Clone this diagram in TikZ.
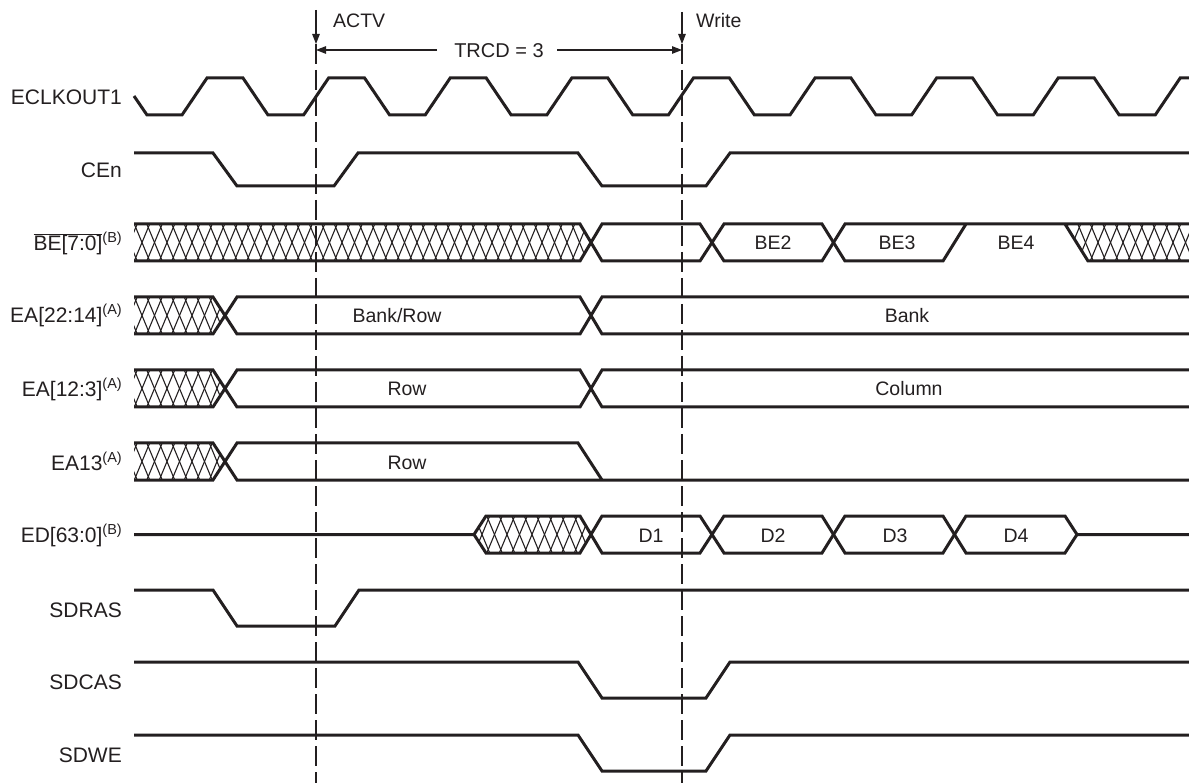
\documentclass[tikz,border=0pt]{standalone}
\usepackage{fontspec}
\setmainfont{Liberation Sans}
\usetikzlibrary{arrows.meta}
\definecolor{ink}{RGB}{35,31,32}
\newcommand{\tisup}[1]{\raisebox{8pt}{\fontsize{14.5}{15}\selectfont(#1)}}
\newcommand{\xhatch}[4]{%
  \pgfmathsetmacro{\hdx}{(#4-#3)/4.8}%
  \pgfmathtruncatemacro{\hn}{(#2-#1)/12.5+3}%
  \foreach \k in {0,...,\hn}{%
    \pgfmathsetmacro{\xa}{#1+8-12.5+\k*12.5}%
    \draw[hatchline] (\xa-\hdx,#3) -- (\xa+\hdx,#4);
    \draw[hatchline] (\xa-\hdx,#4) -- (\xa+\hdx,#3);
  }%
}
\tikzset{
  wave/.style={line width=3pt, draw=ink},
  hatchline/.style={line width=1.1pt, draw=ink},
  guide/.style={line width=1.2pt, draw=ink, dash pattern=on 20pt off 6pt},
  arr/.style={line width=1.2pt, draw=ink, -{Triangle[length=10pt,width=7.5pt]}},
  lbl/.style={anchor=base east, inner sep=0pt, text=ink, font=\fontsize{21}{25}\selectfont},
  seg/.style={anchor=base, inner sep=0pt, text=ink, font=\fontsize{19.5}{23}\selectfont},
  note/.style={anchor=base west, inner sep=0pt, text=ink, font=\fontsize{19.5}{23}\selectfont}
}
\begin{document}
\begin{tikzpicture}[x=1pt,y=-1pt]
\useasboundingbox (0,0) rectangle (1189,783);

% guides and arrows
\coordinate (actvTop) at (316,10);
\coordinate (actvTip) at (316,44);
\coordinate (actvBot) at (316,783);
\coordinate (wrTop) at (682,12);
\coordinate (wrTip) at (682,44);
\coordinate (wrBot) at (682,783);
\coordinate (hL) at (316,50);
\coordinate (hR) at (682,50);
\node[note] (actv) at (333,28) {ACTV};
\node[note] (write) at (696,28) {Write};
\node[anchor=base, inner sep=0pt, text=ink, font=\fontsize{20}{24}\selectfont] (trcd) at (499,58) {TRCD = 3};
\coordinate (tl) at (437,50);
\coordinate (tr) at (557,50);
\draw[arr] (actvTop) -- (actvTip);
\draw[arr] (wrTop) -- (wrTip);
\draw[guide] (actvTip) -- (actvBot);
\draw[guide] (wrTip) -- (wrBot);
\draw[arr] (tl) -- (hL);
\draw[arr] (tr) -- (hR);

% labels
\node[lbl] (l1) at (122,105) {ECLKOUT1};
\node[lbl] (l2) at (122,178) {CEn};
\node[lbl] (l3) at (122,251) {$\overline{\mbox{BE[7:0]}}$\tisup{B}};
\node[lbl] (l4) at (122,323) {EA[22:14]\tisup{A}};
\node[lbl] (l5) at (122,397) {EA[12:3]\tisup{A}};
\node[lbl] (l6) at (122,470) {EA13\tisup{A}};
\node[lbl] (l7) at (122,542) {ED[63:0]\tisup{B}};
\node[lbl] (l8) at (122,617) {SDRAS};
\node[lbl] (l9) at (122,689) {SDCAS};
\node[lbl] (l10) at (122,762) {SDWE};

% clock
\draw[wave] (134,96) -- (147,115)
  \foreach \k in {0,...,7}{ -- ({182+121.6*\k},115) -- ({207+121.6*\k},78) -- ({243+121.6*\k},78) -- ({268+121.6*\k},115) }
  -- (1155.2,115) -- (1180.2,78) -- (1189,78);

% CEn
\draw[wave] (134,153) -- (213,153) -- (237,186) -- (334,186) -- (358,153) -- (578,153) -- (602,186) -- (706,186) -- (730,153) -- (1189,153);

% BE[7:0]
\begin{scope}
\clip (134,224) -- (580,224) -- (591,242.5) -- (580,261) -- (134,261) -- cycle;
\xhatch{134}{591}{224}{261}
\end{scope}
\begin{scope}
\clip (1065,224) -- (1189,224) -- (1189,261) -- (1088,261) -- cycle;
\xhatch{1065}{1189}{224}{261}
\end{scope}
\draw[wave] (134,224) -- (580,224) -- (602,261) -- (700,261) -- (724,224) -- (822,224) -- (845,261) -- (943,261) -- (966,224);
\draw[wave] (134,261) -- (580,261) -- (602,224) -- (700,224) -- (724,261) -- (822,261) -- (845,224) -- (1189,224);
\draw[wave] (1065,224) -- (1088,261) -- (1189,261);
\node[seg] (be2) at (773,250) {BE2};
\node[seg] (be3) at (897,250) {BE3};
\node[seg] (be4) at (1016,250) {BE4};

% EA[22:14]
\begin{scope}
\clip (134,297) -- (213,297) -- (225,315.5) -- (213,334) -- (134,334) -- cycle;
\xhatch{134}{225}{297}{334}
\end{scope}
\draw[wave] (134,297) -- (213,297) -- (237,334) -- (580,334) -- (602,297) -- (1189,297);
\draw[wave] (134,334) -- (213,334) -- (237,297) -- (580,297) -- (602,334) -- (1189,334);
\node[seg] (bankrow) at (397,323) {Bank/Row};
\node[seg] (bank) at (907,323) {Bank};

% EA[12:3]
\begin{scope}
\clip (134,370) -- (213,370) -- (225,388.5) -- (213,407) -- (134,407) -- cycle;
\xhatch{134}{225}{370}{407}
\end{scope}
\draw[wave] (134,370) -- (213,370) -- (237,407) -- (580,407) -- (602,370) -- (1189,370);
\draw[wave] (134,407) -- (213,407) -- (237,370) -- (580,370) -- (602,407) -- (1189,407);
\node[seg] (row1) at (407,396) {Row};
\node[seg] (col) at (909,396) {Column};

% EA13
\begin{scope}
\clip (134,443) -- (213,443) -- (225,461.5) -- (213,480) -- (134,480) -- cycle;
\xhatch{134}{225}{443}{480}
\end{scope}
\draw[wave] (134,443) -- (213,443) -- (237,480) -- (1189,480);
\draw[wave] (134,480) -- (213,480) -- (237,443) -- (578,443) -- (602,480);
\node[seg] (row2) at (407,469) {Row};

% ED[63:0]
\begin{scope}
\clip (474,534.5) -- (486,516) -- (580,516) -- (591,534.5) -- (580,553) -- (486,553) -- cycle;
\xhatch{474}{591}{516}{553}
\end{scope}
\draw[wave] (134,534.5) -- (474,534.5) -- (486,516) -- (580,516) -- (602,553) -- (700,553) -- (724,516) -- (822,516) -- (845,553) -- (943,553) -- (966,516) -- (1065,516) -- (1077,534.5) -- (1189,534.5);
\draw[wave] (474,534.5) -- (486,553) -- (580,553) -- (602,516) -- (700,516) -- (724,553) -- (822,553) -- (845,516) -- (943,516) -- (966,553) -- (1065,553) -- (1077,534.5);
\node[seg] (d1) at (651,542) {D1};
\node[seg] (d2) at (773,542) {D2};
\node[seg] (d3) at (895,542) {D3};
\node[seg] (d4) at (1016,542) {D4};

% SDRAS, SDCAS, SDWE
\draw[wave] (134,590) -- (213,590) -- (237,626) -- (335,626) -- (359,590) -- (1189,590);
\draw[wave] (134,662) -- (578,662) -- (602,698) -- (706,698) -- (730,662) -- (1189,662);
\draw[wave] (134,735) -- (578,735) -- (602,771) -- (706,771) -- (730,735) -- (1189,735);
\end{tikzpicture}
\end{document}
